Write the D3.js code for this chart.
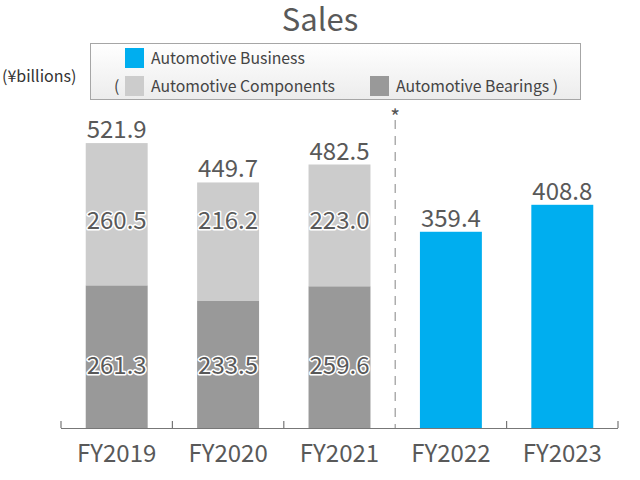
<!DOCTYPE html>
<html>
<head>
<meta charset="utf-8">
<script src="https://cdn.jsdelivr.net/npm/d3@7"></script>
<style>
  body { margin: 0; background: #fff; }
  text { font-family: "Noto Sans CJK JP", "Noto Sans", sans-serif; }
</style>
</head>
<body>
<div id="chart"></div>
<script>
const years = ["FY2019", "FY2020", "FY2021", "FY2022", "FY2023"];
const bearings = [261.3, 233.5, 259.6, null, null];
const components = [260.5, 216.2, 223.0, null, null];
const business = [null, null, null, 359.4, 408.8];
const totals = [521.9, 449.7, 482.5, 359.4, 408.8];

const width = 640;
const height = 480;
const margin = {top: 100, bottom: 52, left: 61, right: 22};
const base = height - margin.bottom;

const colBlue = "#00aeef";
const colLight = "#cccccc";
const colDark = "#999999";
const textCol = "#595959";

const svg = d3.select("#chart")
  .append("svg")
  .attr("width", width)
  .attr("height", height);

const x = d3.scaleBand()
  .domain(years)
  .range([margin.left, width - margin.right])
  .paddingInner(0.444)
  .paddingOuter(0.222);

const y = d3.scaleLinear()
  .domain([0, 600])
  .range([base, base - 600 * 0.546]);

// title
svg.append("text")
  .attr("x", 320).attr("y", 31)
  .attr("text-anchor", "middle")
  .attr("font-size", 31)
  .attr("fill", textCol)
  .text("Sales");

svg.append("text")
  .attr("x", 2).attr("y", 82)
  .attr("font-size", 16)
  .attr("fill", "#333")
  .text("(¥billions)");

// legend box
const defs = svg.append("defs");
const grad = defs.append("linearGradient")
  .attr("id", "lg").attr("x1", 0).attr("y1", 0).attr("x2", 0).attr("y2", 1);
grad.append("stop").attr("offset", "0%").attr("stop-color", "#ffffff");
grad.append("stop").attr("offset", "100%").attr("stop-color", "#ececec");

svg.append("rect")
  .attr("x", 90.5).attr("y", 43.5)
  .attr("width", 490).attr("height", 56)
  .attr("fill", "url(#lg)")
  .attr("stroke", "#a6a6a6");

const legend = svg.append("g").attr("font-size", 15.8).attr("fill", "#444");
const items = [
  {c: colBlue, t: "Automotive Business", x: 125, y: 48},
  {c: colLight, t: "Automotive Components", x: 125, y: 76},
  {c: colDark, t: "Automotive Bearings )", x: 370, y: 76}
];
items.forEach(d => {
  legend.append("rect").attr("x", d.x).attr("y", d.y).attr("width", 19).attr("height", 20).attr("fill", d.c);
  legend.append("text").attr("x", d.x + 26).attr("y", d.y + 16).text(d.t);
});
legend.append("text").attr("x", 114).attr("y", 92).text("(");

// bars
const g = svg.append("g");
years.forEach((yr, i) => {
  if (bearings[i] != null) {
    g.append("rect")
      .attr("x", x(yr)).attr("width", x.bandwidth())
      .attr("y", y(bearings[i])).attr("height", y(0) - y(bearings[i]))
      .attr("fill", colDark);
    g.append("rect")
      .attr("x", x(yr)).attr("width", x.bandwidth())
      .attr("y", y(bearings[i] + components[i])).attr("height", y(0) - y(components[i]))
      .attr("fill", colLight);
  } else {
    g.append("rect")
      .attr("x", x(yr)).attr("width", x.bandwidth())
      .attr("y", y(business[i])).attr("height", y(0) - y(business[i]))
      .attr("fill", colBlue);
  }
});

// labels
const lab = svg.append("g")
  .attr("font-size", 24)
  .attr("text-anchor", "middle")
  .attr("fill", textCol);

years.forEach((yr, i) => {
  const cx = x(yr) + x.bandwidth() / 2;
  lab.append("text")
    .attr("x", cx).attr("y", y(totals[i]) - 5)
    .text(totals[i].toFixed(1));
  if (components[i] != null) {
    [[components[i], 229], [bearings[i], 374]].forEach(([v, ty]) => {
      lab.append("text")
        .attr("x", cx).attr("y", ty)
        .attr("stroke", "#fff").attr("stroke-width", 3)
        .attr("stroke-linejoin", "round")
        .attr("paint-order", "stroke")
        .text(v.toFixed(1));
    });
  }
});

// axis
const axis = svg.append("g").attr("stroke", "#777").attr("stroke-width", 1.2);
axis.append("line")
  .attr("x1", margin.left).attr("x2", width - margin.right)
  .attr("y1", base + 0.5).attr("y2", base + 0.5);
const tickXs = years.map(d => x(d) - x.step() * x.paddingInner() / 2);
tickXs[0] = margin.left;
tickXs.push(width - margin.right);
tickXs.forEach((tx, i) => {
  if (i === 3) return;
  axis.append("line")
    .attr("x1", tx).attr("x2", tx)
    .attr("y1", base - 7).attr("y2", base);
});

svg.append("g")
  .attr("font-size", 24)
  .attr("fill", textCol)
  .attr("text-anchor", "middle")
  .selectAll("text")
  .data(years)
  .join("text")
  .attr("x", d => x(d) + x.bandwidth() / 2)
  .attr("y", 462)
  .text(d => d);

// divider between FY2021 and FY2022
const dx = tickXs[3];
svg.append("line")
  .attr("x1", dx).attr("x2", dx)
  .attr("y1", 120).attr("y2", base)
  .attr("stroke", "#999")
  .attr("stroke-width", 1.2)
  .attr("stroke-dasharray", "9,7");
svg.append("text")
  .attr("x", dx).attr("y", 125)
  .attr("text-anchor", "middle")
  .attr("font-size", 21)
  .attr("fill", "#555")
  .text("*");
</script>
</body>
</html>
